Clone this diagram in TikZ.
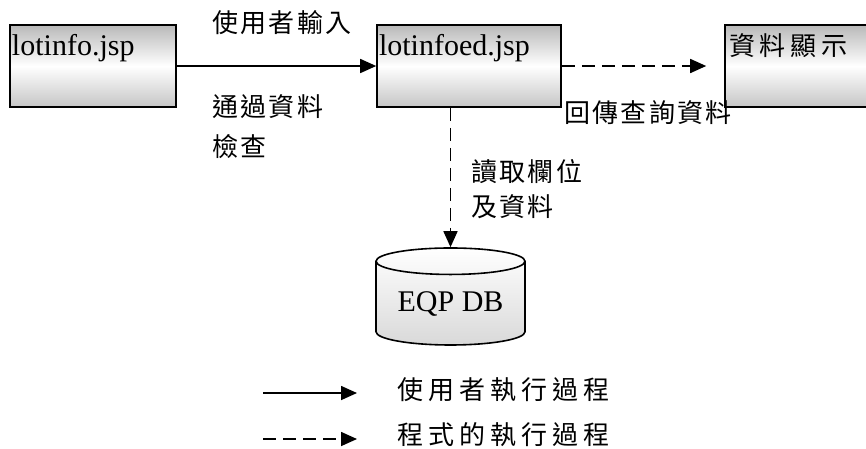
\documentclass[tikz,border=0pt]{standalone}
\usepackage{fontspec}
\setmainfont{Liberation Serif}
\newfontfamily\cjk[LetterSpace=8]{Noto Sans CJK TC}
\newfontfamily\cjkw[LetterSpace=19]{Noto Sans CJK TC}
\usetikzlibrary{arrows.meta,shapes.geometric}
\tikzset{>={Triangle[length=16pt,width=14pt]}}

\begin{document}
\begin{tikzpicture} [x=1pt,y=-1pt,line width=1.6pt,font=\fontsize{30}{36}\selectfont]

\tikzstyle{page}=[draw,rectangle,inner xsep=2pt,inner ysep=2pt,text height=28pt,text depth=50pt,align=left,top color=gray!55,bottom color=gray!45,middle color=white]
\tikzstyle{lab}=[font=\fontsize{26}{40}\cjk,inner sep=0pt,anchor=west,align=left]
\tikzstyle{flow}=[dash pattern=on 13pt off 7pt]
\tikzstyle{db}=[draw,cylinder,shape border rotate=90,aspect=0.25,minimum width=149pt,minimum height=97pt,inner sep=0pt,top color=white,bottom color=gray!30]

\clip (0,0) rectangle (866,448);

 \node[page,text width=162pt] (info) at (93,66) {lotinfo.jsp};
 \node[page,text width=180pt] (ed) at (469,66) {lotinfoed.jsp};
 \node[page,inner xsep=4pt,text width=142pt,font=\fontsize{26}{30}\cjkw] (show) at (800,66) {資料顯示};
 \node[db] (db) at (450.5,303.5) {EQP DB};

 \draw[->] (info) -- (ed);
 \draw[->,flow,shorten >=18pt] (ed) -- (show);
 \draw[->,flow] (db.north |- ed.south) -- (db);

 \node[lab] (input) at (212,23) {使用者輸入};
 \node[lab,anchor=north west] (check) at (212,94) {通過資料\\檢查};
 \node[lab] (back) at (564,113) {回傳查詢資料};
 \node[lab,anchor=north west,font=\fontsize{26}{35}\cjk] (read) at (471,159) {讀取欄位\\及資料};

 % legend
 \coordinate (u1) at (263,393);
 \coordinate (u2) at (357,393);
 \coordinate (p1) at (263,439);
 \coordinate (p2) at (357,439);
 \draw[->] (u1) -- (u2);
 \draw[->,flow] (p1) -- (p2);
 \node[lab,font=\fontsize{26}{30}\cjkw] (ulab) at (397,390) {使用者執行過程};
 \node[lab,font=\fontsize{26}{30}\cjkw] (plab) at (397,435) {程式的執行過程};
\end{tikzpicture}
\end{document}
